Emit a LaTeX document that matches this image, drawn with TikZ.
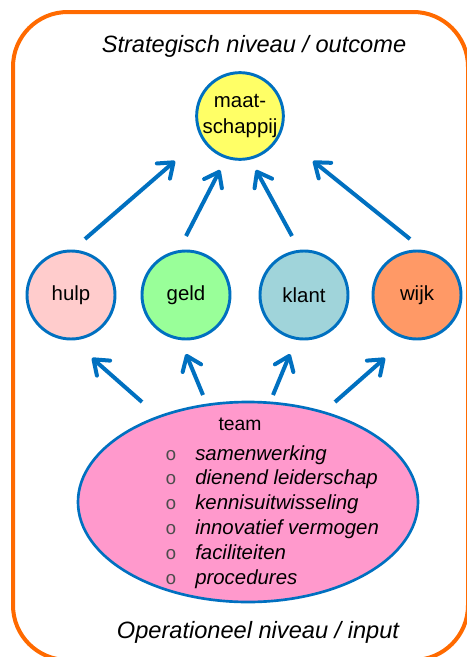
\documentclass[tikz,border=0pt]{standalone}
\usepackage{fontspec}
\setmainfont{Liberation Sans}
\newfontfamily\bolfont{Liberation Mono}
\usepackage{tikz}
\usetikzlibrary{arrows.meta, shapes.geometric, calc}
\definecolor{pptBlue}{HTML}{0070C0}
\definecolor{kaderOranje}{HTML}{FF6A00}
\definecolor{maatGeel}{HTML}{FFFF66}
\definecolor{hulpRoze}{HTML}{FFCCCC}
\definecolor{geldGroen}{HTML}{99FF99}
\definecolor{klantBlauw}{HTML}{A0D4DA}
\definecolor{wijkOranje}{HTML}{FF9966}
\definecolor{teamRoze}{HTML}{FF99CC}

\begin{document}
\begin{tikzpicture}[x=0.75pt, y=-0.75pt,
  doel/.style={circle, draw=pptBlue, line width=2.2pt, minimum size=66pt,
               inner sep=0pt, font=\fontsize{15.3}{20}\selectfont},
  pijl/.style={pptBlue, line width=3pt,
               -{Straight Barb[round, length=10pt, width=15pt]}},
  titel/.style={font=\fontsize{17.7}{21}\selectfont\itshape, anchor=base},
  punt/.style={font=\fontsize{15.3}{19}\selectfont\itshape, anchor=base west, inner sep=0pt},
  bol/.style={font=\fontsize{14}{19}\bolfont, text=black!70, anchor=base, inner sep=0pt},
]
  \clip (0,0) rectangle (467,657);
  % kader
  \draw[kaderOranje, line width=3pt, rounded corners=41pt] (13,12) rectangle (468,660);
  % --- niveaus ---
  \node[titel] (strat) at (254,52) {Strategisch niveau / outcome};
  \node[titel] (oper) at (258,638) {Operationeel niveau / input};
  % --- doelen ---
  \node[doel, fill=maatGeel, minimum size=64.5pt, align=center] (maat) at (240,116) {maat-\\schappij};
  \foreach \naam/\x/\kleur in {hulp/71/hulpRoze, geld/186/geldGroen, klant/304/klantBlauw, wijk/417/wijkOranje}
    \node[doel, fill=\kleur] (\naam) at (\x,295) {\naam};
  % --- team ---
  \node[ellipse, draw=pptBlue, line width=2pt, fill=teamRoze,
        minimum width=255pt, minimum height=150pt] (team) at (248,502) {};
  \node[anchor=base, font=\fontsize{14.5}{18}\selectfont] (teamkop) at (240,430) {team};
  \foreach \tekst [count=\i] in {samenwerking, dienend leiderschap, kennisuitwisseling,
                                 innovatief vermogen, faciliteiten, procedures}{
    \node[bol] (bol\i) at (171,{435.2+24.8*\i}) {o};
    \node[punt] (punt\i) at (195,{435.2+24.8*\i}) {\tekst};
  }
  % --- pijlen naar boven ---
  \draw[pijl] ($(hulp)+(14,-56)$) -- ($(maat)+(-65,45)$);
  \draw[pijl] ($(geld)+(0,-59)$) -- ($(maat)+(-20,54)$);
  \draw[pijl] ($(klant)+(-12,-59)$) -- ($(maat)+(16,54)$);
  \draw[pijl] ($(wijk)+(-7,-56)$) -- ($(maat)+(73,45)$);
  \draw[pijl] ($(team)+(-106,-100)$) -- ($(hulp)+(21,63)$);
  \draw[pijl] ($(team)+(-45,-107)$) -- ($(geld)+(0,59)$);
  \draw[pijl] ($(team)+(25,-107)$) -- ($(klant)+(-14,59)$);
  \draw[pijl] ($(team)+(87,-100)$) -- ($(wijk)+(-32,63)$);
\end{tikzpicture}
\end{document}
